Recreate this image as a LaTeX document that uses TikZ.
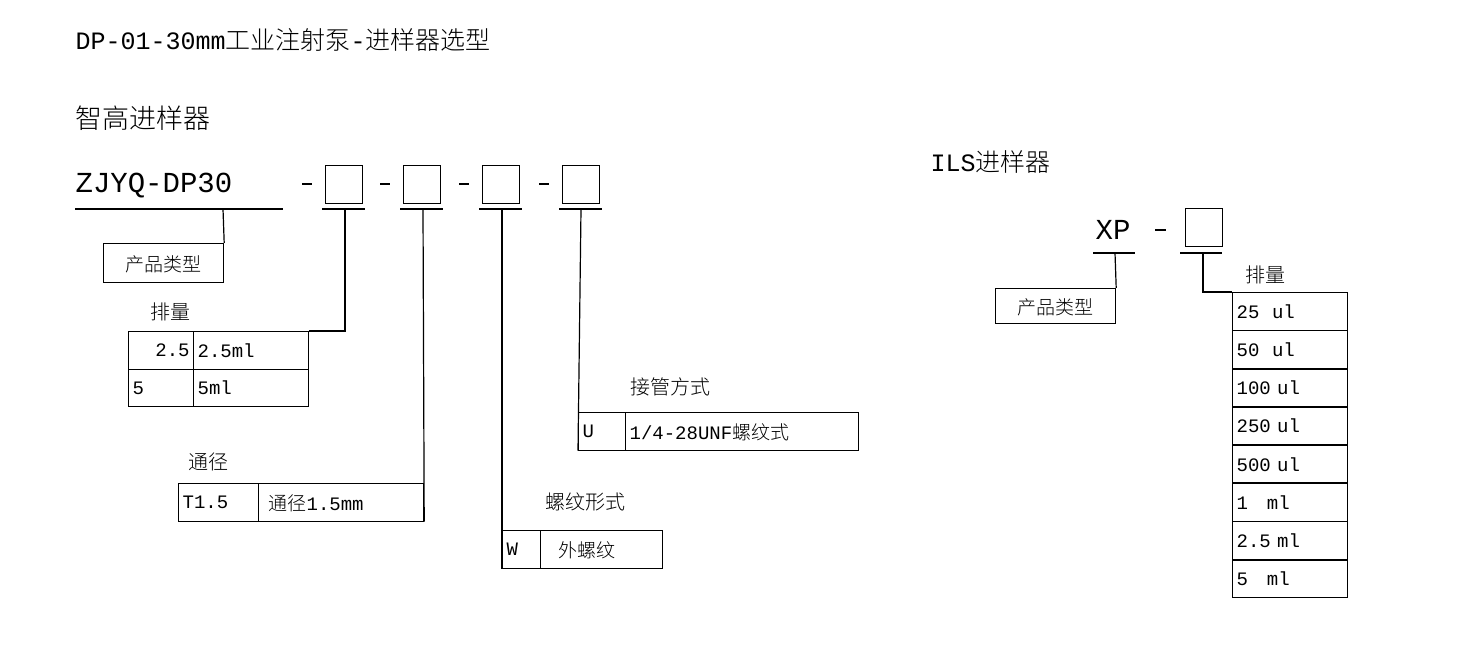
\documentclass[tikz,border=0pt]{standalone}
\usepackage{fontspec}
\setmainfont{Liberation Mono}
\newfontfamily\cjk{Noto Sans CJK SC Light}
\tikzset{%
  every cell/.style={
    rectangle,
    draw,
    inner sep=0pt,
    anchor=north west,
    text depth=0pt,
    font=\fontsize{19}{19}\selectfont
  },
  every slot/.style={
    rectangle,
    draw,
    minimum width=37pt,
    minimum height=38pt,
    anchor=north west
  },
  caption/.style={
    anchor=west,
    inner sep=0pt,
    font=\fontsize{20}{20}\selectfont\cjk
  },
  code/.style={
    anchor=west,
    inner sep=0pt,
    font=\fontsize{29}{29}\selectfont
  },
}
\newcommand{\cell}[5]{% name, x, y, width, text
  \node [every cell/.try, minimum width=#4pt, minimum height=37.5pt,
    text width=\dimexpr#4pt-8pt\relax, align=left] (#1) at (#2,#3) {#5};}

\begin{document}
\begin{tikzpicture}[x=1pt, y=-1pt, line width=1.2pt]
\useasboundingbox (0,0) rectangle (1477,663);

% titles
\node [code, font=\fontsize{25}{25}\selectfont] (title) at (75,40)
  {DP-01-30mm{\cjk 工业注射泵}-{\cjk 进样器选型}};
\node [caption, font=\fontsize{27}{27}\selectfont\cjk] (head-a) at (75,118) {智高进样器};
\node [code, font=\fontsize{25}{25}\selectfont] (head-b) at (930,162) {ILS{\cjk 进样器}};

% model code, left
\node [code] (model) at (75,186) {ZJYQ-DP30};
\draw (75,209) -- (283,209);
\foreach \x [count=\i] in {325,403,482,562} {
  \node [every slot/.try] (slot-\i) at (\x,165) {};
  \draw (\x-3,209) -- (\x+40,209);
  \draw (\x-23,184) -- (\x-13,184);
}

% product type
\node [every cell/.try, minimum width=120pt, minimum height=39pt, font=\fontsize{19}{19}\selectfont\cjk]
  (type-a) at (103,243) {产品类型};
\draw (223,209) -- (type-a.north east);

% displacement
\node [caption] (lab-vol) at (150,312) {排量};
\cell{vol-1a}{128}{331}{65}{\hfill2.5}
\cell{vol-1b}{193}{331}{115}{2.5ml}
\cell{vol-2a}{128}{368.5}{65}{5}
\cell{vol-2b}{193}{368.5}{115}{5ml}
\draw (345,209) |- (vol-1b.north east);

% bore
\node [caption] (lab-bore) at (188,462) {通径};
\cell{bore-a}{178}{483}{80}{T1.5}
\cell{bore-b}{258}{483}{165}{\hspace{6pt}{\cjk 通径}1.5mm}
\draw (423,209) -- (bore-b.south east);

% thread
\node [caption] (lab-thread) at (545,502) {螺纹形式};
\cell{thread-a}{502}{530}{38}{W}
\cell{thread-b}{540}{530}{122}{\hspace{14pt}{\cjk 外螺纹}}
\draw (502,209) -- (thread-a.south west);

% fitting
\node [caption] (lab-fit) at (630,387) {接管方式};
\cell{fit-a}{578}{412}{47}{U}
\cell{fit-b}{625}{412}{233}{1/4-28UNF{\cjk 螺纹式}}
\draw (581,209) -- (fit-a.south west);

% model code, right
\node [code] (xp) at (1095,230) {XP};
\draw (1093,253) -- (1135,253);
\draw (1155,230) -- (1166,230);
\node [every slot/.try] (slot-xp) at (1185,208) {};
\draw (1180,253) -- (1222,253);
\node [every cell/.try, minimum width=120pt, minimum height=35pt, font=\fontsize{19}{19}\selectfont\cjk]
  (type-b) at (995,288) {产品类型};
\draw (1115,253) -- (type-b.north east);

\node [caption] (lab-xp) at (1245,275) {排量};
\foreach \l [count=\i] in {25\ \ ul,50\ \ ul,100 ul,250 ul,500 ul,1\ \ \ ml,2.5 ml,5\ \ \ ml} {
  \pgfmathsetmacro{\yy}{292+(\i-1)*38.2}
  \cell{xp-\i}{1232}{\yy}{115}{\l}
}
\draw (1203,253) |- (xp-1.north west);

\end{tikzpicture}
\end{document}
